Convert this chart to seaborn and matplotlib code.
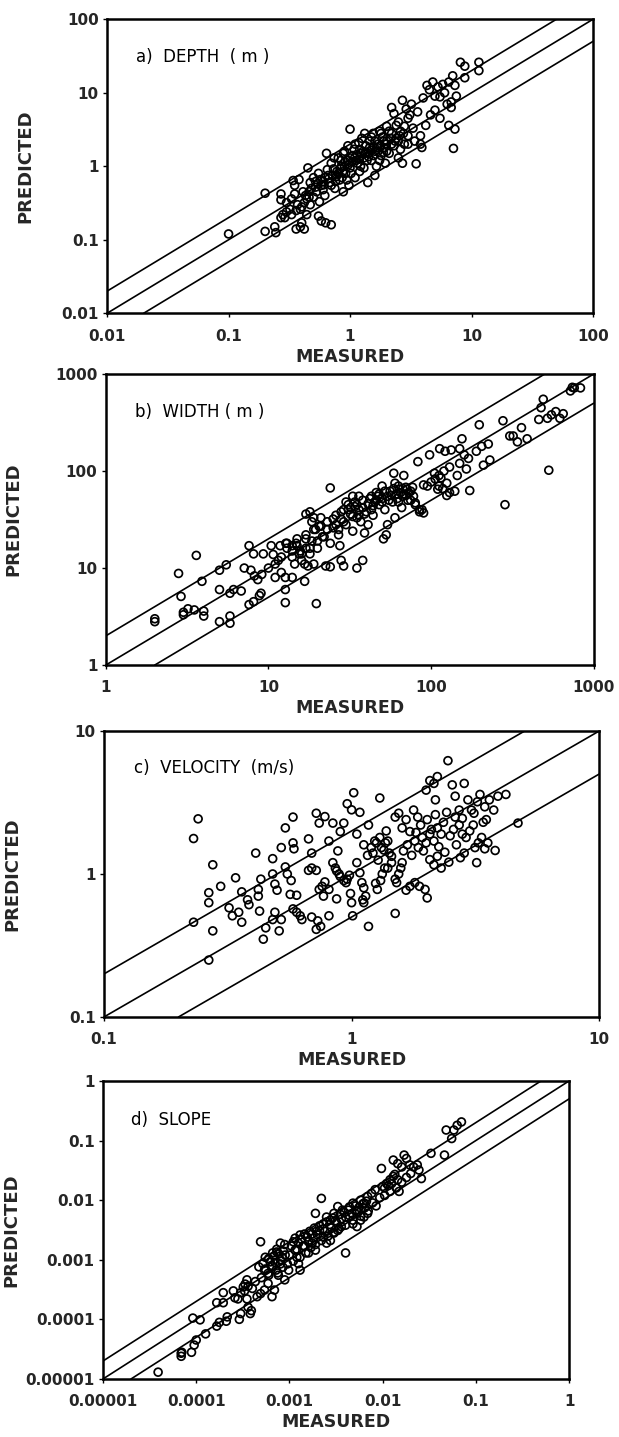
import matplotlib
matplotlib.use("Agg")
import matplotlib.pyplot as plt
import seaborn as sns
import pandas as pd

# ---------------------------------------------------------------- data
# (measured, predicted) pairs for each channel property

depth_pts = [
    (0.10, 0.12), (0.20, 0.43), (0.20, 0.13), (0.24, 0.15), (0.245, 0.125),
    (0.27, 0.42), (0.27, 0.35), (0.28, 0.22), (0.29, 0.20), (0.27, 0.20),
    (0.32, 0.26), (0.33, 0.22), (0.30, 0.24), (0.34, 0.64), (0.35, 0.55),
    (0.38, 0.66), (0.36, 0.14), (0.39, 0.15), (0.42, 0.14), (0.40, 0.17),
    (0.45, 0.95), (0.37, 0.30), (0.40, 0.28), (0.39, 0.26), (0.42, 0.32),
    (0.44, 0.36), (0.43, 0.40), (0.46, 0.45), (0.48, 0.50), (0.47, 0.60),
    (0.50, 0.70), (0.52, 0.62), (0.50, 0.38), (0.55, 0.21), (0.58, 0.18),
    (0.63, 0.17), (0.70, 0.16), (0.64, 1.5), (0.55, 0.80), (0.58, 0.55),
    (0.60, 0.48), (0.62, 0.70), (0.65, 0.90), (0.68, 0.60), (0.70, 1.1),
    (0.72, 0.75), (0.75, 0.50), (0.78, 0.85), (0.80, 1.3), (0.82, 0.65),
    (0.85, 1.0), (0.88, 0.45), (0.90, 1.6), (0.92, 0.80), (0.95, 1.2),
    (0.98, 0.55), (1.0, 3.2), (1.0, 0.95), (1.05, 1.4), (1.1, 0.70),
    (1.1, 2.0), (1.15, 1.1), (1.2, 0.85), (1.2, 1.7), (1.25, 2.4),
    (1.3, 1.3), (1.3, 0.95), (1.35, 1.9), (1.4, 0.60), (1.4, 1.5),
    (1.45, 2.2), (1.5, 1.2), (1.55, 2.8), (1.6, 0.75), (1.6, 1.6),
    (1.65, 1.0), (1.7, 2.0), (1.75, 3.0), (1.8, 1.4), (1.85, 2.5),
    (1.9, 1.8), (1.95, 1.1), (2.0, 3.5), (2.0, 2.2), (2.1, 1.5),
    (2.2, 6.3), (2.2, 2.8), (2.3, 5.2), (2.3, 1.9), (2.4, 2.4),
    (2.5, 4.0), (2.5, 1.3), (2.6, 3.0), (2.7, 7.9), (2.7, 1.1),
    (2.8, 2.0), (2.9, 6.0), (3.0, 4.5), (3.0, 2.6), (3.2, 7.0),
    (3.3, 3.3), (3.5, 1.08), (3.4, 2.2), (3.6, 5.5), (3.8, 2.6),
    (3.8, 2.0), (3.9, 1.8), (4.0, 8.5), (4.2, 3.6), (4.3, 12.6),
    (4.5, 11.0), (4.6, 5.0), (4.8, 14.0), (5.0, 9.0), (5.0, 5.8),
    (5.3, 12.0), (5.5, 8.8), (5.5, 4.5), (5.8, 13.0), (6.0, 10.0),
    (6.3, 7.0), (6.5, 14.0), (6.5, 3.6), (6.8, 7.5), (6.8, 6.3),
    (7.0, 17.0), (7.1, 1.75), (7.3, 3.2), (7.3, 12.6), (7.5, 9.0),
    (8.1, 26.0), (8.8, 23.0), (8.8, 16.0), (11.5, 26.0), (11.5, 20.0),
    (0.30, 0.32), (0.33, 0.36), (0.35, 0.42), (0.36, 0.25), (0.44, 0.22),
    (0.47, 0.30), (0.53, 0.45), (0.56, 0.33), (0.60, 0.62), (0.62, 0.40),
    (0.66, 0.75), (0.70, 0.55), (0.74, 1.3), (0.76, 0.62), (0.80, 0.80),
    (0.84, 1.2), (0.86, 0.70), (0.88, 1.5), (0.90, 1.0), (0.94, 0.65),
    (0.96, 1.9), (1.0, 1.3), (1.02, 0.80), (1.08, 1.7), (1.12, 1.2),
    (1.18, 2.1), (1.22, 1.0), (1.28, 1.6), (1.32, 2.8), (1.38, 1.2),
    (1.45, 1.8), (1.5, 2.5), (1.55, 1.4), (1.6, 2.2), (1.7, 1.6),
    (1.75, 1.2), (1.8, 2.8), (1.9, 2.2), (2.0, 1.6), (2.1, 3.0),
    (2.2, 2.0), (2.4, 3.6), (2.5, 2.2), (2.6, 1.7), (2.8, 3.5),
    (3.0, 2.0), (3.1, 5.0),
    (0.52, 0.52), (0.57, 0.66), (0.61, 0.56), (0.67, 0.68), (0.73, 0.92),
    (0.77, 0.72), (0.83, 0.92), (0.87, 0.84), (0.91, 1.15), (0.97, 1.05),
    (1.04, 1.15), (1.09, 1.3), (1.14, 1.45), (1.19, 1.25), (1.24, 1.5),
    (1.34, 1.55), (1.42, 1.35), (1.48, 1.65), (1.58, 1.85), (1.68, 1.8),
    (1.78, 1.9), (1.88, 1.55), (1.98, 2.0), (2.15, 2.4), (2.35, 2.2),
    (2.55, 2.6), (2.75, 2.8), (0.41, 0.45), (0.46, 0.38), (0.54, 0.58),
]

width_pts = [
    (2.0, 2.8), (2.0, 3.0), (2.8, 8.8), (3.6, 13.5), (2.9, 5.1),
    (3.0, 3.5), (3.0, 3.3), (3.2, 3.8), (3.5, 3.7), (3.9, 7.3),
    (4.0, 3.2), (4.0, 3.6), (5.0, 9.5), (5.5, 10.8), (5.0, 6.0),
    (5.0, 2.8), (5.8, 2.7), (5.8, 3.2), (6.1, 6.0), (5.8, 5.5),
    (6.8, 5.8), (7.1, 10.0), (7.6, 4.2), (8.1, 4.5), (8.8, 5.2),
    (9.0, 5.5), (7.6, 17.0), (8.1, 14.0), (7.8, 9.5), (8.2, 8.3),
    (8.6, 7.6), (9.1, 8.6), (9.3, 14.0), (10.4, 17.0), (10.7, 13.8),
    (11.0, 8.0), (12.7, 8.0), (14.0, 8.0), (12.7, 6.0), (12.7, 4.4),
    (16.7, 7.3), (19.7, 4.3), (11.0, 11.0), (11.8, 17.0), (12.8, 18.0),
    (14.0, 17.0), (14.8, 18.0), (15.7, 15.0), (16.7, 11.0), (17.5, 10.5),
    (18.0, 38.0), (18.5, 30.0), (19.5, 25.0), (20.5, 27.0), (21.5, 21.0),
    (22.5, 10.5), (24.0, 10.3), (24.0, 67.0), (27.0, 25.0), (27.5, 17.0),
    (28.0, 12.0), (29.0, 10.5), (31.0, 40.0), (33.0, 55.0), (34.0, 43.0),
    (36.0, 35.0), (35.0, 10.0), (38.0, 12.0), (39.0, 23.0), (41.0, 28.0),
    (43.0, 40.0), (45.0, 48.0), (47.0, 55.0), (50.0, 48.0), (51.0, 20.0),
    (53.0, 22.0), (59.0, 95.0), (68.0, 90.0), (54.0, 28.0), (60.0, 33.0),
    (63.0, 48.0), (67.0, 55.0), (71.0, 65.0), (75.0, 50.0), (80.0, 47.0),
    (85.0, 40.0), (90.0, 37.0), (95.0, 70.0), (100.0, 77.0), (106.0, 83.0),
    (112.0, 70.0), (118.0, 66.0), (125.0, 56.0), (130.0, 60.0), (83.0, 125.0),
    (98.0, 147.0), (112.0, 90.0), (113.0, 170.0), (122.0, 160.0), (133.0, 165.0),
    (150.0, 170.0), (155.0, 215.0), (140.0, 62.0), (173.0, 63.0), (160.0, 147.0),
    (170.0, 135.0), (190.0, 160.0), (198.0, 300.0), (205.0, 180.0), (225.0, 190.0),
    (230.0, 130.0), (210.0, 115.0), (277.0, 330.0), (305.0, 230.0), (320.0, 230.0),
    (340.0, 200.0), (360.0, 280.0), (390.0, 215.0), (285.0, 45.0), (530.0, 102.0),
    (460.0, 340.0), (475.0, 450.0), (490.0, 550.0), (520.0, 350.0), (550.0, 380.0),
    (585.0, 410.0), (620.0, 350.0), (650.0, 390.0), (720.0, 670.0), (760.0, 720.0),
    (830.0, 720.0), (740.0, 730.0), (12.0, 13.0), (13.0, 18.0), (14.0, 15.0),
    (15.0, 20.0), (16.0, 14.0), (17.0, 22.0), (18.0, 16.0), (19.0, 25.0),
    (20.0, 19.0), (21.0, 27.0), (22.0, 21.0), (23.0, 30.0), (24.0, 18.0),
    (25.0, 26.0), (26.0, 35.0), (27.0, 22.0), (28.0, 32.0), (29.0, 40.0),
    (30.0, 28.0), (31.0, 45.0), (32.0, 36.0), (33.0, 24.0), (34.0, 48.0),
    (35.0, 33.0), (36.0, 55.0), (37.0, 30.0), (38.0, 42.0), (40.0, 38.0),
    (42.0, 52.0), (44.0, 35.0), (46.0, 60.0), (48.0, 45.0), (50.0, 70.0),
    (52.0, 40.0), (54.0, 55.0), (56.0, 62.0), (58.0, 48.0), (60.0, 75.0),
    (62.0, 52.0), (64.0, 65.0), (66.0, 42.0), (68.0, 58.0), (70.0, 68.0),
    (72.0, 50.0), (75.0, 62.0), (78.0, 55.0), (80.0, 45.0), (85.0, 38.0),
    (88.0, 40.0), (90.0, 72.0), (105.0, 95.0), (110.0, 65.0), (115.0, 85.0),
    (120.0, 100.0), (125.0, 75.0), (130.0, 110.0), (145.0, 90.0), (150.0, 120.0),
    (165.0, 105.0), (10.0, 10.0), (11.5, 12.0), (12.0, 9.0), (13.0, 16.0),
    (14.5, 11.0), (15.0, 17.0), (16.0, 12.0), (17.0, 20.0), (18.0, 14.0),
    (19.0, 11.0), (17.0, 36.0), (19.0, 33.0),
    (21.0, 33.0), (23.0, 25.0), (25.0, 32.0), (26.0, 28.0), (28.0, 38.0),
    (29.0, 30.0), (30.0, 48.0), (32.0, 42.0), (33.0, 34.0), (35.0, 45.0),
    (36.0, 40.0), (38.0, 50.0), (39.0, 36.0), (41.0, 46.0), (43.0, 55.0),
    (44.0, 44.0), (46.0, 50.0), (48.0, 58.0), (50.0, 52.0), (52.0, 62.0),
    (55.0, 50.0), (57.0, 56.0), (59.0, 66.0), (61.0, 58.0), (63.0, 70.0),
    (65.0, 60.0), (67.0, 66.0), (70.0, 56.0), (73.0, 60.0), (77.0, 68.0),
    (14.0, 13.0), (15.5, 14.0), (17.0, 16.0), (18.5, 19.0), (20.0, 16.0),
]

velocity_pts = [
    (0.23, 0.46), (0.23, 1.77), (0.24, 2.43), (0.265, 0.25), (0.265, 0.74),
    (0.265, 0.63), (0.275, 1.16), (0.275, 0.40), (0.296, 0.82), (0.34, 0.94),
    (0.32, 0.58), (0.33, 0.51), (0.35, 0.54), (0.36, 0.46), (0.36, 0.75),
    (0.38, 0.66), (0.385, 0.61), (0.41, 1.4), (0.42, 0.78), (0.42, 0.70),
    (0.425, 0.55), (0.43, 0.92), (0.44, 0.35), (0.45, 0.42), (0.48, 1.28),
    (0.48, 1.0), (0.49, 0.85), (0.50, 0.77), (0.48, 0.48), (0.49, 0.54),
    (0.51, 0.40), (0.52, 0.48), (0.52, 1.53), (0.54, 2.1), (0.58, 2.5),
    (0.58, 1.65), (0.585, 1.5), (0.54, 1.12), (0.55, 1.0), (0.57, 0.90),
    (0.565, 0.72), (0.58, 0.57), (0.60, 0.54), (0.62, 0.51), (0.63, 0.48),
    (0.60, 0.71), (0.67, 1.76), (0.67, 1.06), (0.69, 1.1), (0.72, 1.06),
    (0.69, 1.4), (0.69, 0.50), (0.72, 0.41), (0.73, 0.47), (0.75, 0.43),
    (0.72, 2.66), (0.74, 2.27), (0.78, 2.52), (0.74, 0.78), (0.76, 0.82),
    (0.77, 0.70), (0.78, 0.88), (0.81, 0.78), (0.81, 0.51), (0.81, 1.7),
    (0.84, 2.27), (0.84, 1.2), (0.86, 1.1), (0.87, 1.05), (0.89, 1.0),
    (0.90, 0.96), (0.87, 0.67), (0.88, 1.45), (0.90, 1.98), (0.93, 2.27),
    (0.93, 0.90), (0.95, 0.87), (0.96, 0.92), (0.98, 0.98), (0.96, 3.1),
    (1.0, 2.81), (1.02, 3.7), (1.05, 1.9), (1.08, 2.7), (0.99, 0.73),
    (1.0, 0.63), (1.01, 0.51), (1.05, 1.2), (1.08, 1.02), (1.10, 0.87),
    (1.12, 0.80), (1.14, 0.70), (1.11, 0.66), (1.12, 0.63), (1.17, 0.43),
    (1.17, 2.2), (1.3, 3.4), (1.20, 1.53), (1.22, 1.4), (1.24, 1.7),
    (1.26, 1.65), (1.30, 1.8), (1.32, 1.53), (1.35, 1.47), (1.37, 1.65),
    (1.40, 1.7), (1.42, 1.4), (1.45, 1.33), (1.25, 0.86), (1.27, 0.78),
    (1.31, 0.90), (1.33, 1.0), (1.36, 1.1), (1.40, 1.1), (1.45, 1.2),
    (1.5, 0.53), (1.50, 0.92), (1.52, 0.87), (1.55, 1.0), (1.58, 1.1),
    (1.60, 1.2), (1.50, 2.5), (1.55, 2.66), (1.60, 2.1), (1.66, 2.4),
    (1.72, 1.98), (1.78, 2.8), (1.85, 2.5), (1.66, 0.77), (1.72, 0.82),
    (1.80, 0.87), (1.88, 0.82), (1.98, 0.78), (2.02, 0.68), (1.80, 1.7),
    (1.86, 1.53), (1.93, 1.8), (2.0, 1.65), (2.07, 1.9), (2.15, 1.7),
    (2.22, 2.1), (2.30, 1.9), (2.0, 3.86), (2.07, 4.5), (2.15, 4.3),
    (2.18, 3.3), (2.22, 4.8), (2.07, 1.26), (2.15, 1.16), (2.22, 1.33),
    (2.30, 1.1), (2.38, 1.42), (2.47, 1.21), (2.45, 6.2), (2.55, 4.2),
    (2.62, 3.5), (2.72, 2.8), (2.62, 2.5), (2.72, 2.2), (2.8, 1.9),
    (2.9, 1.8), (3.0, 2.0), (3.1, 2.2), (2.85, 4.3), (2.95, 3.3),
    (3.05, 2.8), (3.12, 2.66), (3.22, 3.2), (3.15, 1.53), (3.25, 1.65),
    (3.35, 1.8), (3.45, 1.5), (3.55, 1.65), (3.2, 1.2), (3.3, 3.6),
    (3.45, 2.95), (3.6, 3.3), (3.75, 2.8), (3.9, 3.5), (4.2, 3.6),
    (3.8, 1.46), (4.7, 2.27), (3.5, 2.4), (3.4, 2.3), (2.85, 1.4),
    (2.75, 1.3),
    (1.62, 1.45), (1.68, 1.6), (1.75, 1.35), (1.82, 1.95), (1.9, 2.2),
    (1.95, 1.45), (2.02, 2.4), (2.1, 2.05), (2.18, 2.6), (2.25, 1.55),
    (2.35, 2.3), (2.42, 2.7), (2.5, 1.85), (2.58, 2.05), (2.65, 1.6),
    (2.8, 2.45), (1.12, 1.6), (1.16, 1.35), (1.28, 1.25), (1.38, 2.0),
]

slope_pts = [
    (3.9e-5, 1.3e-5), (6.9e-5, 2.7e-5), (6.9e-5, 2.4e-5), (7.0e-5, 2.8e-5),
    (8.9e-5, 2.8e-5), (9.5e-5, 3.7e-5), (1.0e-4, 4.5e-5), (9.2e-5, 1.05e-4),
    (1.1e-4, 9.8e-5), (1.26e-4, 5.7e-5), (1.66e-4, 7.7e-5), (1.77e-4, 8.9e-5),
    (1.66e-4, 1.9e-4), (1.95e-4, 1.9e-4), (1.95e-4, 2.8e-4), (2.1e-4, 9.3e-5),
    (2.15e-4, 1.1e-4), (2.6e-4, 2.3e-4), (2.9e-4, 1.0e-4), (3.0e-4, 1.25e-4),
    (3.2e-4, 3.5e-4), (3.35e-4, 3.9e-4), (3.5e-4, 4.6e-4), (3.5e-4, 2.2e-4),
    (3.6e-4, 1.6e-4), (3.8e-4, 1.25e-4), (3.9e-4, 1.4e-4), (4.9e-4, 2.0e-3),
    (4.5e-4, 2.4e-4), (4.9e-4, 2.7e-4), (5.4e-4, 3.1e-4), (5.9e-4, 4.0e-4),
    (6.5e-4, 2.4e-4), (6.9e-4, 3.1e-4), (4.7e-4, 7.6e-4), (5.2e-4, 8.6e-4),
    (5.4e-4, 6.7e-4), (5.9e-4, 5.9e-4), (6.5e-4, 7.6e-4), (7.2e-4, 6.7e-4),
    (7.6e-4, 5.5e-4), (5.5e-4, 1.1e-3), (6.0e-4, 1.05e-3), (6.6e-4, 1.3e-3),
    (7.3e-4, 1.35e-3), (8.0e-4, 1.9e-3), (8.9e-4, 1.8e-3), (7.3e-4, 1.5e-3),
    (8.0e-4, 8.5e-4), (8.4e-4, 1.1e-3), (8.9e-4, 4.6e-4), (9.8e-4, 6.7e-4),
    (1.1e-3, 2.0e-3), (1.15e-3, 1.45e-3), (1.2e-3, 1.1e-3), (1.25e-3, 8.6e-4),
    (1.3e-3, 6.7e-4), (1.3e-3, 2.6e-3), (1.45e-3, 1.7e-3), (1.6e-3, 1.3e-3),
    (1.75e-3, 1.9e-3), (1.9e-3, 1.45e-3), (1.9e-3, 6.0e-3), (2.2e-3, 1.07e-2),
    (2.1e-3, 3.1e-3), (2.3e-3, 4.0e-3), (2.5e-3, 5.2e-3), (2.75e-3, 4.6e-3),
    (3.0e-3, 6.0e-3), (3.3e-3, 7.8e-3), (2.3e-3, 2.4e-3), (2.5e-3, 1.9e-3),
    (2.75e-3, 2.1e-3), (3.0e-3, 2.8e-3), (3.3e-3, 3.1e-3), (3.6e-3, 3.6e-3),
    (4.0e-3, 1.3e-3), (3.7e-3, 6.8e-3), (4.0e-3, 5.2e-3), (4.4e-3, 7.7e-3),
    (4.8e-3, 8.9e-3), (5.3e-3, 6.8e-3), (5.8e-3, 1.0e-2), (6.3e-3, 8.9e-3),
    (6.9e-3, 1.15e-2), (7.6e-3, 1.3e-2), (8.3e-3, 1.5e-2), (4.8e-3, 4.0e-3),
    (5.3e-3, 3.6e-3), (5.8e-3, 4.6e-3), (6.3e-3, 5.2e-3), (6.9e-3, 6.0e-3),
    (9.7e-3, 3.4e-2), (1.0e-2, 1.7e-2), (1.1e-2, 1.9e-2), (1.2e-2, 2.2e-2),
    (1.3e-2, 2.5e-2), (1.45e-2, 2.2e-2), (1.5e-2, 1.4e-2), (1.3e-2, 4.7e-2),
    (1.45e-2, 4.1e-2), (1.6e-2, 3.6e-2), (1.7e-2, 5.7e-2), (1.8e-2, 5.0e-2),
    (1.95e-2, 3.9e-2), (2.15e-2, 3.6e-2), (2.35e-2, 3.9e-2), (2.45e-2, 3.2e-2),
    (2.6e-2, 2.3e-2), (3.3e-2, 6.1e-2), (4.6e-2, 5.7e-2), (4.8e-2, 0.15),
    (5.5e-2, 0.108), (5.8e-2, 0.15), (6.3e-2, 0.18), (7.0e-2, 0.205),
    (1.0e-3, 1.2e-3), (1.1e-3, 9.5e-4), (1.2e-3, 1.5e-3), (1.3e-3, 1.1e-3),
    (1.4e-3, 1.7e-3), (1.5e-3, 1.3e-3), (1.6e-3, 2.0e-3), (1.7e-3, 1.6e-3),
    (1.8e-3, 2.3e-3), (1.9e-3, 1.8e-3), (2.0e-3, 2.6e-3), (2.2e-3, 2.1e-3),
    (2.4e-3, 3.0e-3), (2.6e-3, 2.5e-3), (2.8e-3, 3.5e-3), (3.0e-3, 2.9e-3),
    (3.2e-3, 4.2e-3), (3.4e-3, 3.3e-3), (3.6e-3, 4.8e-3), (4.0e-3, 3.8e-3),
    (4.4e-3, 5.5e-3), (4.8e-3, 4.6e-3), (5.3e-3, 6.4e-3), (5.8e-3, 5.4e-3),
    (6.4e-3, 7.4e-3), (7.0e-3, 6.6e-3), (7.8e-3, 9.0e-3), (8.5e-3, 8.0e-3),
    (9.3e-3, 1.1e-2), (1.05e-2, 1.2e-2), (1.2e-2, 1.4e-2), (1.4e-2, 1.6e-2),
    (1.6e-2, 2.0e-2), (1.8e-2, 2.4e-2), (2.0e-2, 2.8e-2), (5.0e-4, 5.0e-4),
    (5.5e-4, 7.0e-4), (6.0e-4, 5.5e-4), (6.5e-4, 8.0e-4), (7.0e-4, 9.0e-4),
    (7.5e-4, 6.0e-4), (8.0e-4, 1.0e-3), (8.5e-4, 7.5e-4), (9.0e-4, 1.2e-3),
    (9.5e-4, 8.5e-4), (2.5e-4, 3.0e-4), (2.8e-4, 2.2e-4), (3.0e-4, 2.8e-4),
    (3.3e-4, 3.0e-4), (3.6e-4, 3.6e-4), (4.0e-4, 3.3e-4), (4.3e-4, 4.3e-4),
    (1.05e-3, 1.7e-3), (1.15e-3, 2.3e-3), (1.25e-3, 1.9e-3), (1.35e-3, 2.2e-3),
    (1.45e-3, 2.7e-3), (1.55e-3, 2.4e-3), (1.65e-3, 3.0e-3), (1.75e-3, 2.7e-3),
    (1.85e-3, 3.4e-3), (1.95e-3, 3.0e-3), (2.1e-3, 3.7e-3), (2.3e-3, 3.3e-3),
    (2.5e-3, 4.3e-3), (2.7e-3, 3.9e-3), (2.9e-3, 5.0e-3), (3.1e-3, 4.5e-3),
    (3.5e-3, 5.8e-3), (3.9e-3, 6.2e-3), (4.3e-3, 6.8e-3), (4.7e-3, 6.0e-3),
    (5.1e-3, 8.0e-3), (5.6e-3, 7.6e-3), (6.1e-3, 8.6e-3), (6.7e-3, 9.6e-3),
    (1.05e-2, 1.6e-2), (1.15e-2, 1.75e-2), (1.25e-2, 1.9e-2), (1.35e-2, 2.7e-2),
    (6.2e-4, 9.2e-4), (6.8e-4, 1.15e-3), (7.7e-4, 1.25e-3), (8.6e-4, 1.4e-3),
]

panel_titles = ["a)  DEPTH  ( m )", "b)  WIDTH ( m )",
                "c)  VELOCITY  (m/s)", "d)  SLOPE"]
depth_ticks = [0.01, 0.1, 1, 10, 100]
depth_labels = ["0.01", "0.1", "1", "10", "100"]
width_ticks = [1, 10, 100, 1000]
width_labels = ["1", "10", "100", "1000"]
velocity_ticks = [0.1, 1, 10]
velocity_labels = ["0.1", "1", "10"]
slope_ticks = [0.00001, 0.0001, 0.001, 0.01, 0.1, 1]
slope_labels = ["0.00001", "0.0001", "0.001", "0.01", "0.1", "1"]
band_factors = [0.5, 1.0, 2.0]   # 1:1 line and factor-of-two envelope

# ---------------------------------------------------------------- style
sns.set_style("ticks")
plt.rcParams["font.family"] = ["DejaVu Sans"]
plt.rcParams["axes.linewidth"] = 1.6

fig = plt.figure(figsize=(6.19, 14.37), dpi=100)

# axes rectangles in figure fractions: left, bottom, width, height
boxes = [
    (0.173, 0.782, 0.785, 0.2046),
    (0.171, 0.5372, 0.788, 0.2025),
    (0.168, 0.2923, 0.800, 0.199),
    (0.1664, 0.0404, 0.753, 0.2074),
]
ylabel_x = [-0.150, -0.172, -0.166, -0.178]

panels = [
    (depth_pts, depth_ticks, depth_labels),
    (width_pts, width_ticks, width_labels),
    (velocity_pts, velocity_ticks, velocity_labels),
    (slope_pts, slope_ticks, slope_labels),
]

for i, (pts, ticks, labels) in enumerate(panels):
    ax = fig.add_axes(boxes[i])
    df = pd.DataFrame(pts, columns=["measured", "predicted"])
    lo, hi = ticks[0], ticks[-1]

    for f in band_factors:
        ax.axline((lo, lo * f), (hi, hi * f), color="black", lw=1.2, zorder=1)

    sns.scatterplot(data=df, x="measured", y="predicted", ax=ax,
                    marker="o", s=32, facecolors="none", edgecolor="black",
                    linewidth=1.25, zorder=2, legend=False)

    ax.set_xscale("log")
    ax.set_yscale("log")
    ax.set_xlim(lo, hi)
    ax.set_ylim(lo, hi)
    ax.set_xticks(ticks)
    ax.set_xticklabels(labels)
    ax.set_yticks(ticks)
    ax.set_yticklabels(labels)
    ax.minorticks_off()
    ax.tick_params(axis="both", which="major", direction="out", length=3,
                   width=1.0, labelsize=11, color="black")
    ax.tick_params(axis="x", pad=8)
    ax.tick_params(axis="y", pad=3)
    for lab in ax.get_xticklabels() + ax.get_yticklabels():
        lab.set_fontweight("bold")
    for sp in ax.spines.values():
        sp.set_visible(True)
        sp.set_linewidth(1.8)
        sp.set_color("black")

    ax.set_xlabel("MEASURED", fontsize=12.5, fontweight="bold", labelpad=3)
    ax.set_ylabel("PREDICTED", fontsize=13, fontweight="bold")
    ax.yaxis.set_label_coords(ylabel_x[i], 0.5)
    ax.text(0.06, 0.87, panel_titles[i], transform=ax.transAxes,
            fontsize=12, ha="left", va="center", color="black")

fig.savefig("out.png", dpi=100)
